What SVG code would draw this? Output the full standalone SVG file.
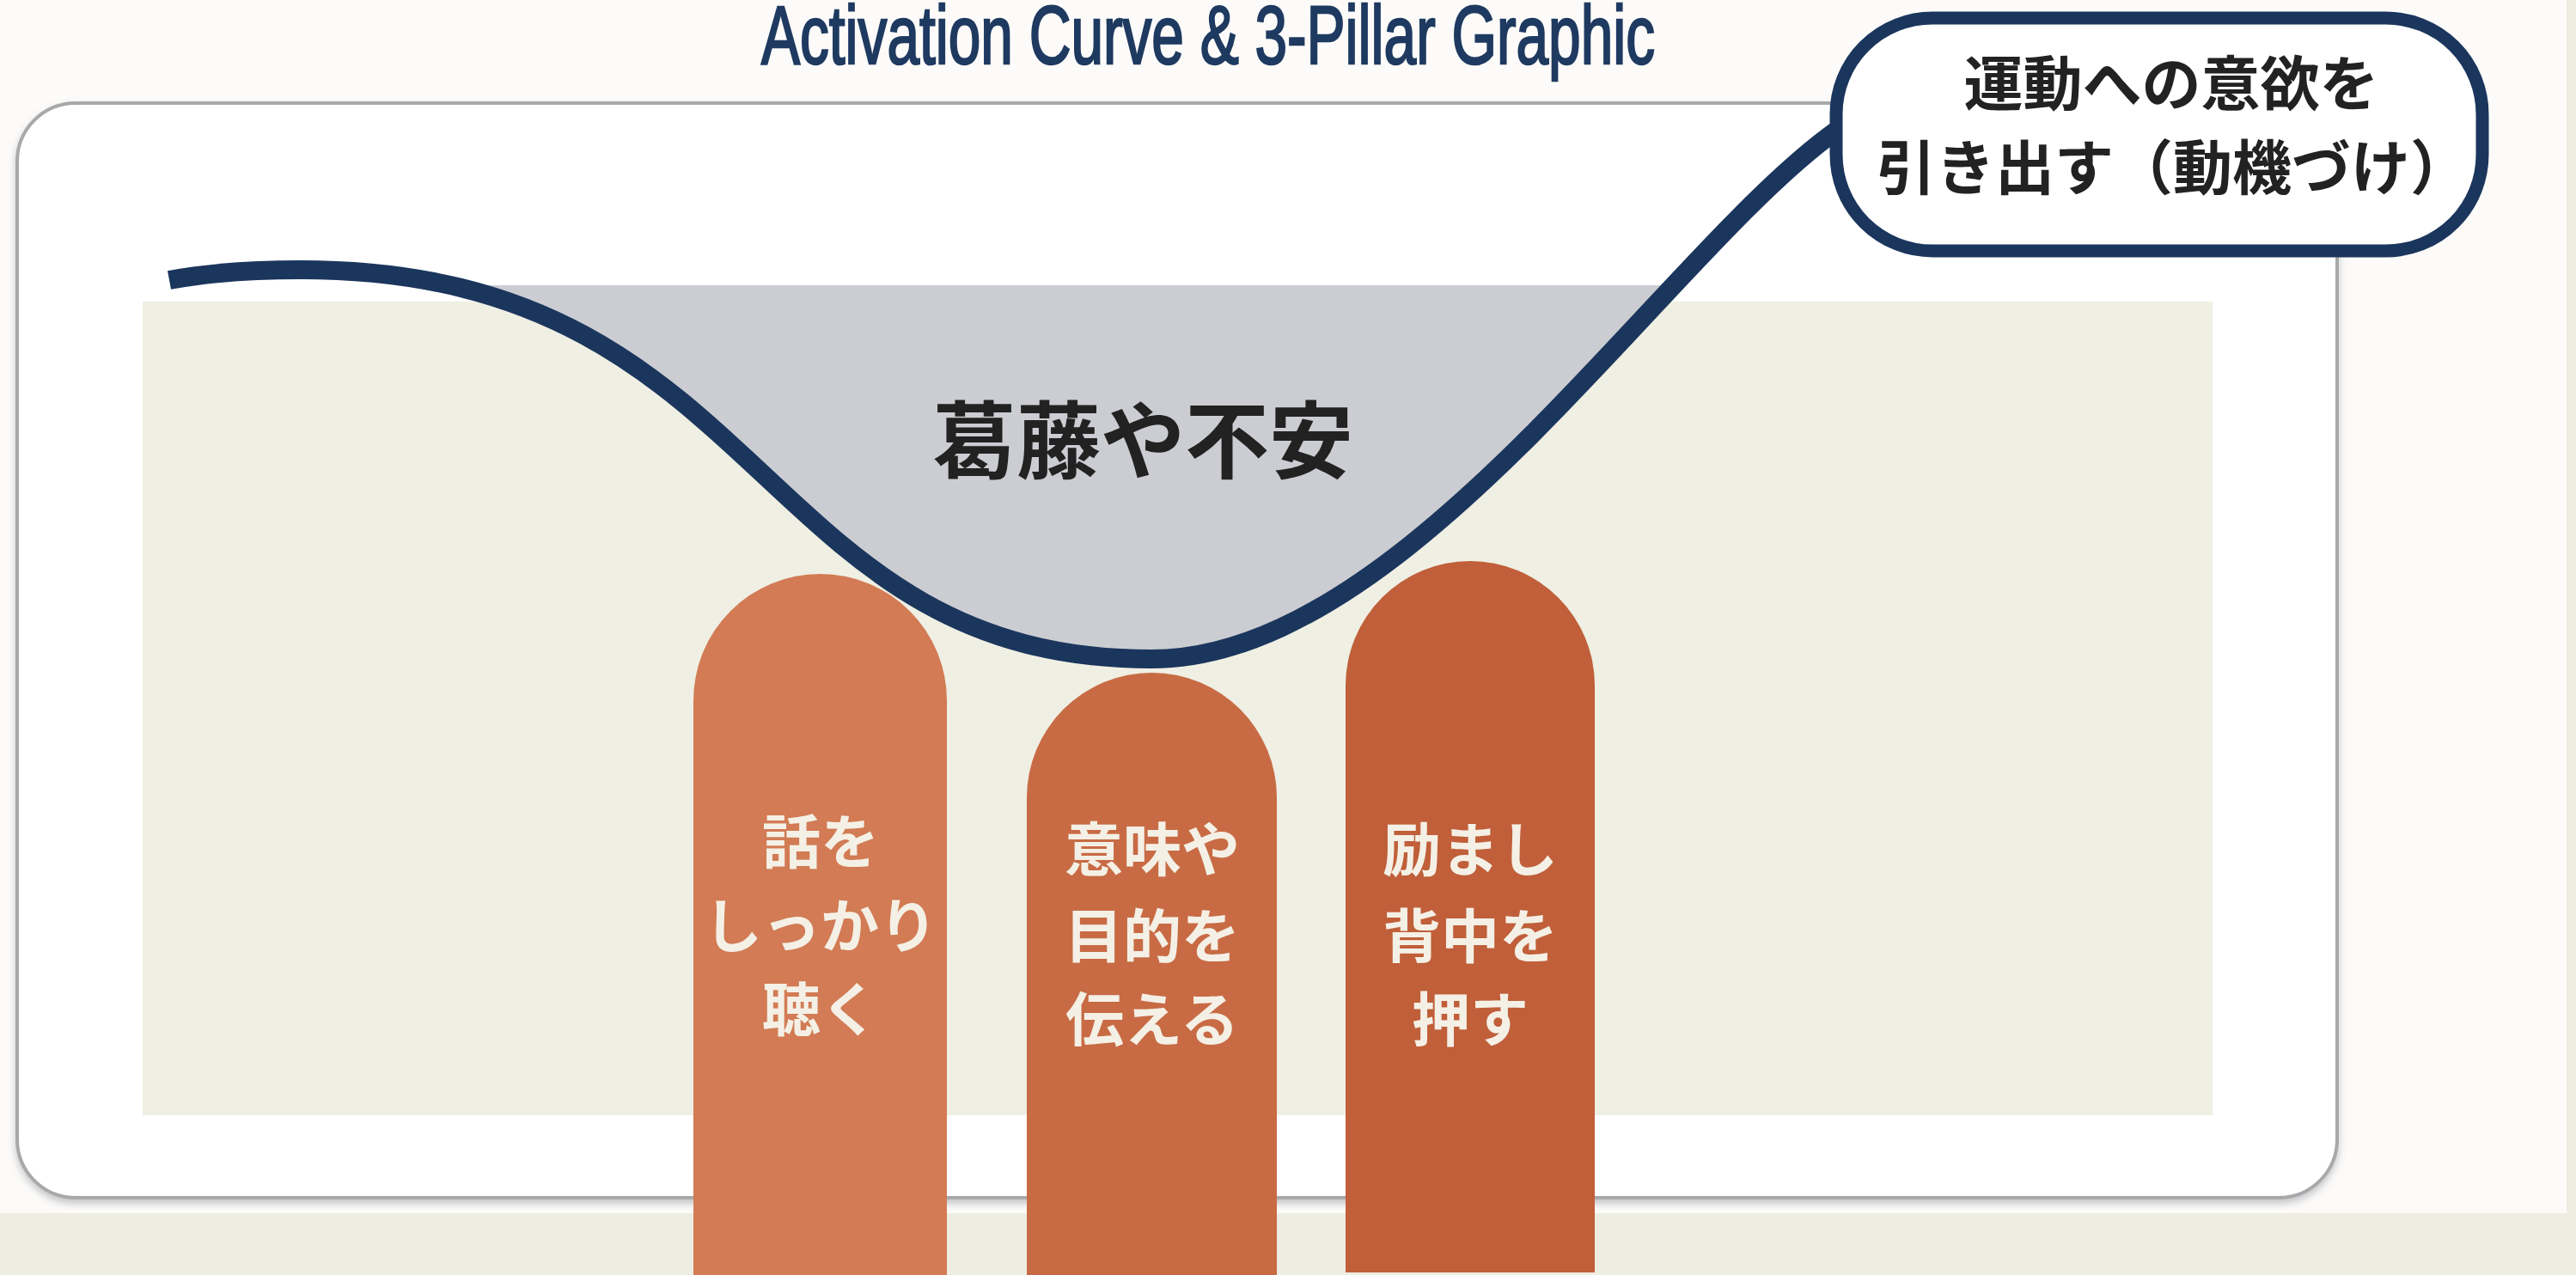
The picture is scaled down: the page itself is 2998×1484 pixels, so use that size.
<svg xmlns="http://www.w3.org/2000/svg" width="2998" height="1484" viewBox="0 0 2998 1484">
  <defs>
    <style>
      .title { font-family: "Liberation Sans", "DejaVu Sans", sans-serif; font-weight: normal; font-size: 96px; fill: #1f3a60; stroke: #1f3a60; stroke-width: 2.5px; }
      .jp { font-family: "Noto Sans CJK JP", "Noto Sans", sans-serif; font-weight: bold; }
      .bubble-text { font-size: 69px; fill: #222222; }
      .center-text { font-size: 98px; fill: #222222; }
      .pillar-text { font-size: 68px; fill: #f4f0e6; }
      .curve { fill: none; stroke: #1b365d; stroke-width: 22; stroke-linecap: butt; stroke-linejoin: round; }
    </style>
    <filter id="shadow" x="-5%" y="-5%" width="110%" height="115%">
      <feDropShadow dx="0" dy="5" stdDeviation="4" flood-color="#606070" flood-opacity="0.35"/>
    </filter>
    <clipPath id="belowLine">
      <rect x="0" y="332" width="2998" height="1152"/>
    </clipPath>
  </defs>

  <!-- page background -->
  <g id="background">
    <rect x="0" y="0" width="2998" height="1484" fill="#eeede2"/>
    <rect x="0" y="0" width="2987" height="1412" fill="#fcfbf9"/>
  </g>

  <!-- outer frame -->
  <g id="frame">
    <rect x="20" y="120" width="2700" height="1274" rx="68" ry="68" fill="#ffffff" stroke="#a9a9ab" stroke-width="4" filter="url(#shadow)"/>
    <rect x="166" y="351" width="2409" height="947" fill="#efefe3"/>
  </g>

  <!-- title -->
  <g id="title">
    <text class="title" x="1406" y="74" text-anchor="middle" textLength="1040" lengthAdjust="spacingAndGlyphs">Activation Curve &amp; 3-Pillar Graphic</text>
  </g>

  <!-- conflict / anxiety area -->
  <g id="conflict">
    <path clip-path="url(#belowLine)" fill="#cccdd2" d="M 197 326 C 240 318, 290 314, 350 314 C 896 314, 876 767, 1340 767 C 1640 767, 1940 290, 2140 150 L 2200 100 L 100 100 Z"/>
    <text class="jp center-text" x="1330" y="549" text-anchor="middle">葛藤や不安</text>
  </g>

  <!-- pillars -->
  <g id="pillar-listen">
    <path d="M 807 1484 L 807 815.5 A 147.5 147.5 0 0 1 1102 815.5 L 1102 1484 Z" fill="#d27b54"/>
    <text class="jp pillar-text" text-anchor="middle" x="955" y="1005">話を</text>
    <text class="jp pillar-text" text-anchor="middle" x="955" y="1103">しっかり</text>
    <text class="jp pillar-text" text-anchor="middle" x="955" y="1200">聴く</text>
  </g>
  <g id="pillar-purpose">
    <path d="M 1195 1484 L 1195 928.5 A 145.5 145.5 0 0 1 1486 928.5 L 1486 1484 Z" fill="#c86b44"/>
    <text class="jp pillar-text" text-anchor="middle" x="1341" y="1014">意味や</text>
    <text class="jp pillar-text" text-anchor="middle" x="1341" y="1115">目的を</text>
    <text class="jp pillar-text" text-anchor="middle" x="1341" y="1212">伝える</text>
  </g>
  <g id="pillar-encourage">
    <path d="M 1566 1481 L 1566 798 A 145 145 0 0 1 1856 798 L 1856 1481 Z" fill="#c05f39"/>
    <text class="jp pillar-text" text-anchor="middle" x="1711" y="1014">励まし</text>
    <text class="jp pillar-text" text-anchor="middle" x="1711" y="1115">背中を</text>
    <text class="jp pillar-text" text-anchor="middle" x="1711" y="1212">押す</text>
  </g>

  <!-- connector: activation curve -->
  <g id="connectors">
    <path class="curve" d="M 197 326 C 240 318, 290 314, 350 314 C 896 314, 876 767, 1340 767 C 1640 767, 1940 290, 2140 150"/>
  </g>

  <!-- goal bubble -->
  <g id="goal-bubble">
    <rect x="2137" y="21" width="752" height="271" rx="112" ry="112" fill="#ffffff" stroke="#1b365d" stroke-width="15"/>
    <text class="jp bubble-text" x="2527" y="123" text-anchor="middle">運動への意欲を</text>
    <text class="jp bubble-text" x="2529" y="221" text-anchor="middle">引き出す（動機づけ）</text>
  </g>
</svg>
